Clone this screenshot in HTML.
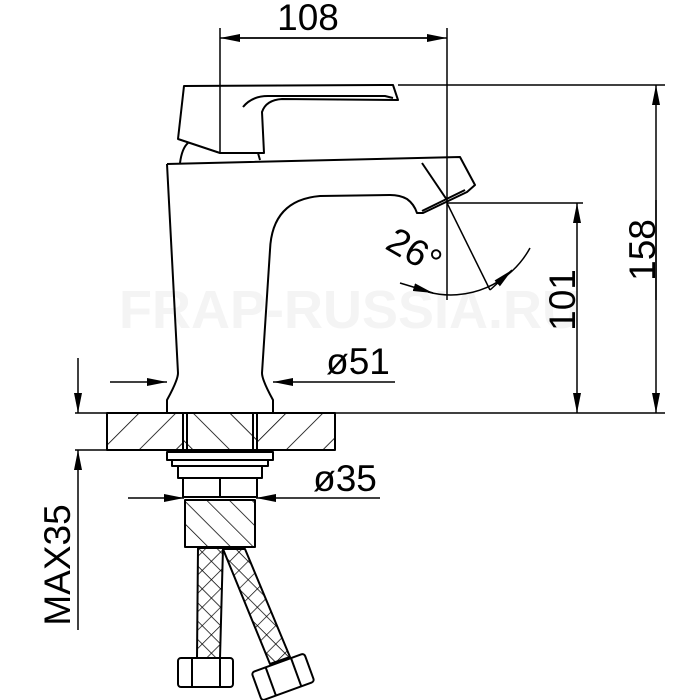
<!DOCTYPE html>
<html><head><style>body{margin:0;background:#fff}svg{display:block}</style></head><body>
<svg width="700" height="700" viewBox="0 0 700 700" xmlns="http://www.w3.org/2000/svg" font-family="Liberation Sans, sans-serif">
<defs>
<pattern id="h1" width="26" height="26" patternUnits="userSpaceOnUse" patternTransform="rotate(45)"><line x1="0" y1="0" x2="0" y2="26" stroke="#000" stroke-width="1.6"/></pattern>
<pattern id="h2" width="26" height="26" patternUnits="userSpaceOnUse" patternTransform="rotate(-45)"><line x1="0" y1="0" x2="0" y2="26" stroke="#000" stroke-width="1.6"/></pattern>
<pattern id="h3" width="16" height="16" patternUnits="userSpaceOnUse" patternTransform="rotate(-45)"><line x1="0" y1="0" x2="0" y2="16" stroke="#000" stroke-width="1.5"/></pattern>
<pattern id="x1" width="13" height="13" patternUnits="userSpaceOnUse" patternTransform="rotate(45)"><path d="M0 0V13M0 0H13" stroke="#000" stroke-width="1.4" fill="none"/></pattern>
<marker id="a" viewBox="0 0 20 8" refX="20" refY="4" markerWidth="20" markerHeight="8" markerUnits="userSpaceOnUse" orient="auto"><path d="M0 0L20 4L0 8z" fill="#000"/></marker>
</defs>
<text x="350" y="328" font-size="54" font-weight="bold" fill="#f4f4f4" text-anchor="middle">FRAP-RUSSIA.RU</text>
<g fill="none" stroke="#000" stroke-width="2" stroke-linejoin="round">
<path d="M184 86 L393 85 L398 100 L282 99 Q266 100 262 112 L264 153 L220 153 L178 139 Z"/>
<path d="M243 107 Q252 96 268 96 L385 96 L393 98"/>
<path d="M180 163 Q182 148 188 143"/>
<line x1="258" y1="153" x2="260" y2="160"/>
<path d="M167 164 L460 157 L475 185 L467 192 L423 213 L417 213 Q414 204 407 199 Q400 195 390 195 L320 196 Q272 200 270 250 L262 373 Q262 380 273 400 L273 413"/>
<path d="M167 164 L178 373 Q178 380 167 400 L167 413"/>
<path d="M422 163 L447 200"/>
<line x1="422" y1="211" x2="465" y2="190"/>
<line x1="220" y1="28" x2="220" y2="153" stroke-width="1.5"/>
<line x1="447" y1="28" x2="447" y2="300" stroke-width="1.5"/>
<line x1="230" y1="38" x2="447" y2="38" stroke-width="1.5" marker-end="url(#a)"/>
<line x1="440" y1="38" x2="220" y2="38" stroke-width="1.5" marker-end="url(#a)"/>
<line x1="398" y1="85" x2="665" y2="85" stroke-width="1.5"/>
<line x1="656" y1="300" x2="656" y2="85" stroke-width="1.5" marker-end="url(#a)"/>
<line x1="656" y1="200" x2="656" y2="413" stroke-width="1.5" marker-end="url(#a)"/>
<line x1="447" y1="203" x2="583" y2="203" stroke-width="1.5"/>
<line x1="577" y1="300" x2="577" y2="203" stroke-width="1.5" marker-end="url(#a)"/>
<line x1="577" y1="300" x2="577" y2="413" stroke-width="1.5" marker-end="url(#a)"/>
<line x1="75" y1="413" x2="665" y2="413" stroke-width="1.5"/>
<line x1="447" y1="203" x2="490" y2="290" stroke-width="1.5"/>
<path d="M428 292 A90 90 0 0 0 530 248" stroke-width="1.5"/>
<path d="M400 283 L433 293" stroke-width="1.5" marker-end="url(#a)"/>
<path d="M490 290 L512 270" stroke-width="1.5" marker-end="url(#a)"/>
<line x1="110" y1="382" x2="167" y2="382" stroke-width="1.5" marker-end="url(#a)"/>
<line x1="395" y1="382" x2="273" y2="382" stroke-width="1.5" marker-end="url(#a)"/>
<line x1="128" y1="498" x2="184" y2="498" stroke-width="1.5" marker-end="url(#a)"/>
<line x1="380" y1="498" x2="256" y2="498" stroke-width="1.5" marker-end="url(#a)"/>
<line x1="78" y1="358" x2="78" y2="413" stroke-width="1.5" marker-end="url(#a)"/>
<line x1="78" y1="630" x2="78" y2="450" stroke-width="1.5" marker-end="url(#a)"/>
<line x1="75" y1="450" x2="107" y2="450" stroke-width="1.5"/>
<rect x="107" y="413" width="76" height="37" fill="url(#h1)"/>
<rect x="257" y="413" width="78" height="37" fill="url(#h1)"/>
<rect x="183" y="413" width="74" height="37" fill="url(#h2)"/>
<line x1="187" y1="413" x2="187" y2="450"/><line x1="253" y1="413" x2="253" y2="450"/>
<rect x="167" y="452" width="106" height="8"/>
<rect x="172" y="460" width="96" height="6"/>
<rect x="178" y="466" width="84" height="12"/>
<rect x="183" y="478" width="74" height="19"/>
<line x1="220" y1="478" x2="220" y2="497"/>
<rect x="185" y="500" width="70" height="47" fill="url(#h3)"/>
<path d="M223 549 L245 549 L290 657 L270 664 Z" fill="url(#x1)"/>
<path d="M198 548 L223 548 L220 658 L197 658 Z" fill="url(#x1)"/>
<rect x="178" y="658" width="55" height="29" rx="3" fill="#fff"/>
<line x1="192" y1="658" x2="192" y2="687"/><line x1="220" y1="658" x2="220" y2="687"/>
<g transform="translate(283,677) rotate(-20)"><rect x="-28" y="-15" width="56" height="30" rx="3" fill="#fff"/><line x1="-13" y1="-15" x2="-13" y2="15"/><line x1="14" y1="-15" x2="14" y2="15"/></g>
</g>
<g font-size="37" fill="#000">
<text x="308" y="30" text-anchor="middle">108</text>
<text x="358" y="374" text-anchor="middle">ø51</text>
<text x="345" y="491" text-anchor="middle">ø35</text>
<text transform="translate(655,250) rotate(-90)" text-anchor="middle">158</text>
<text transform="translate(575,300) rotate(-90)" text-anchor="middle">101</text>
<text transform="translate(70,565) rotate(-90)" text-anchor="middle">MAX35</text>
<text transform="translate(408,262) rotate(30)" text-anchor="middle">26°</text>
</g>
</svg>
</body></html>
